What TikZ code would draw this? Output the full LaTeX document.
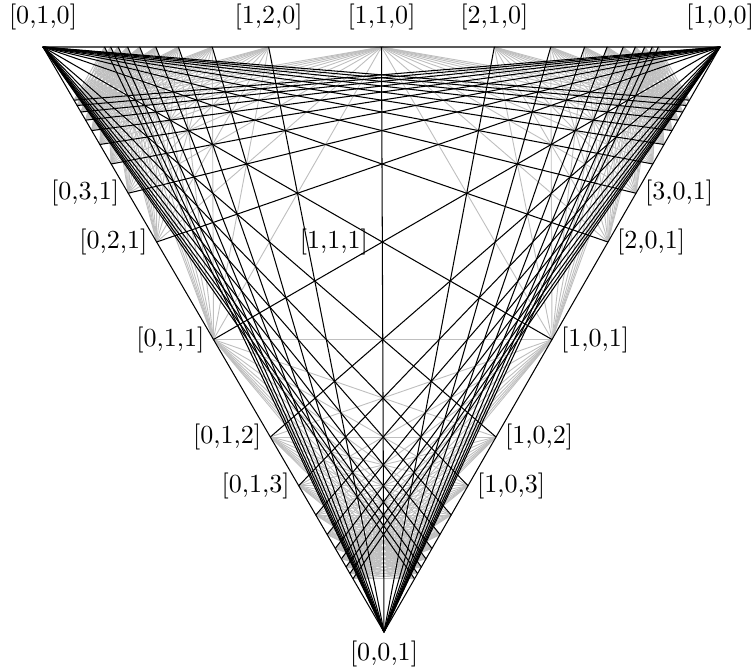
\documentclass[tikz,border=0pt]{standalone}
\usetikzlibrary{positioning}
\begin{document}
\begin{tikzpicture}[x=0.0135cm, y=-0.0135cm,
  grayline/.style={black!25, line width=0.35pt},
  blackline/.style={black, line width=0.4pt}]
  \useasboundingbox (0,0) rectangle (755,668);
  \coordinate (A) at (720,47);
  \coordinate (B) at (43,47);
  \coordinate (C) at (384,632);
  \coordinate (M) at (barycentric cs:A=1,B=1,C=1);
  \foreach \n in {1,...,10} {
    \coordinate (ab\n) at (barycentric cs:A=\n,B=1);
    \coordinate (ba\n) at (barycentric cs:A=1,B=\n);
    \coordinate (ac\n) at (barycentric cs:A=\n,C=1);
    \coordinate (ca\n) at (barycentric cs:A=1,C=\n);
    \coordinate (bc\n) at (barycentric cs:B=\n,C=1);
    \coordinate (cb\n) at (barycentric cs:B=1,C=\n);
  }
  \foreach \m in {1,...,10}
    \foreach \k in {1,...,10} {
      \draw[grayline] (cb\k) -- (ca\m);
      \draw[grayline] (bc\k) -- (ba\m);
      \draw[grayline] (ab\m) -- (ac\k);
    }
  \foreach \n in {1,...,10} {
    \draw[blackline] (C) -- (ab\n) (C) -- (ba\n);
    \draw[blackline] (A) -- (bc\n) (A) -- (cb\n);
    \draw[blackline] (B) -- (ac\n) (B) -- (ca\n);
  }
  \draw[blackline] (A) -- (B) -- (C) -- cycle;
  \node[above=3pt of B] (l010) {[0,1,0]};
  \node[above=3pt of A] (l100) {[1,0,0]};
  \node[below=0pt of C] (l001) {[0,0,1]};
  \node[above=3pt of ba2] (l120) {[1,2,0]};
  \node[above=3pt of ab1] (l110) {[1,1,0]};
  \node[above=3pt of ab2] (l210) {[2,1,0]};
  \node[left=0pt of bc3] (l031) {[0,3,1]};
  \node[left=0pt of bc2] (l021) {[0,2,1]};
  \node[left=0pt of bc1] (l011) {[0,1,1]};
  \node[left=0pt of cb2] (l012) {[0,1,2]};
  \node[left=0pt of cb3] (l013) {[0,1,3]};
  \node[right=0pt of ac3] (l301) {[3,0,1]};
  \node[right=0pt of ac2] (l201) {[2,0,1]};
  \node[right=0pt of ac1] (l101) {[1,0,1]};
  \node[right=0pt of ca2] (l102) {[1,0,2]};
  \node[right=0pt of ca3] (l103) {[1,0,3]};
  \node[left=2pt of M] (l111) {[1,1,1]};
\end{tikzpicture}
\end{document}
